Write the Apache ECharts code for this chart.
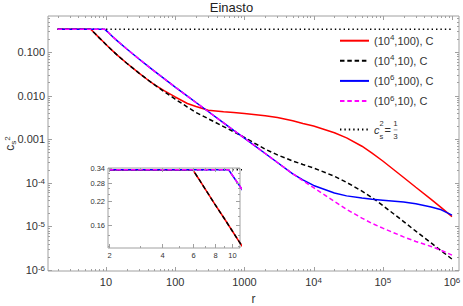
<!DOCTYPE html>
<html><head><meta charset="utf-8">
<script src="https://cdn.jsdelivr.net/npm/echarts@6/dist/echarts.min.js"></script>
<style>html,body{margin:0;padding:0;background:#fff}#c{width:463px;height:306px}</style>
</head><body><div id="c"></div>
<script>
// ---------- data ----------
const rRB = [2, 6, 6.5, 7, 7.5, 8, 9, 10, 11, 12.5, 15, 20, 30, 40, 50, 70, 100, 150, 200, 300, 500, 700, 1000, 2000, 3000, 5000, 7000, 1e4, 2e4, 3e4, 5e4, 7e4, 1e5, 2e5, 3e5, 5e5, 7e5, 1e6];
const red = [0.3333, 0.3333, 0.294, 0.261, 0.234, 0.211, 0.176, 0.149, 0.128, 0.106, 0.0813, 0.0551, 0.0328, 0.0231, 0.0178, 0.0128, 0.0093, 0.0066, 0.0056, 0.0046, 0.00425, 0.00412, 0.0039, 0.00343, 0.00313, 0.00266, 0.00229, 0.0020, 0.00141, 0.00107, 6.9e-4, 4.8e-4, 3.16e-4, 1.32e-4, 7.9e-5, 4.17e-5, 2.69e-5, 1.67e-5];
const black = [0.3333, 0.3333, 0.294, 0.261, 0.234, 0.211, 0.176, 0.149, 0.128, 0.106, 0.0813, 0.0551, 0.0328, 0.0231, 0.0178, 0.0122, 0.0083, 0.00547, 0.0041, 0.00295, 0.00195, 0.00148, 0.0011, 5.9e-4, 4.37e-4, 3.16e-4, 2.63e-4, 2.19e-4, 1.41e-4, 1.02e-4, 6.46e-5, 4.57e-5, 3.02e-5, 1.29e-5, 7.76e-6, 4.17e-6, 2.75e-6, 1.78e-6];
const rBM = [2, 9.6, 10, 11, 12.5, 15, 20, 30, 40, 50, 70, 100, 150, 200, 300, 500, 700, 1000, 2000, 3000, 5000, 7000, 1e4, 2e4, 3e4, 5e4, 7e4, 1e5, 2e5, 3e5, 5e5, 7e5, 1e6];
const blue = [0.3333, 0.3333, 0.313, 0.272, 0.2245, 0.1733, 0.1172, 0.0692, 0.048, 0.0363, 0.0241, 0.0157, 0.00973, 0.00695, 0.00432, 0.00238, 0.0016, 0.00106, 4.7e-4, 2.92e-4, 1.61e-4, 1.17e-4, 8.7e-5, 5.82e-5, 5.01e-5, 4.47e-5, 4.17e-5, 3.98e-5, 3.63e-5, 3.31e-5, 2.79e-5, 2.4e-5, 1.82e-5];
const magenta = [0.3333, 0.3333, 0.313, 0.272, 0.2245, 0.1733, 0.1172, 0.0692, 0.048, 0.0363, 0.0241, 0.0157, 0.00973, 0.00695, 0.00432, 0.00238, 0.0016, 0.00106, 4.7e-4, 2.92e-4, 1.61e-4, 1.12e-4, 7.76e-5, 3.72e-5, 2.45e-5, 1.55e-5, 1.17e-5, 9.1e-6, 5.75e-6, 4.52e-6, 3.47e-6, 2.82e-6, 2.19e-6];
const rFlat = [2, 1e6];
const flat = [1/3, 1/3];

const seriesNames = ['(10^4,100), C', '(10^4,10), C', '(10^6,100), C', '(10^6,10), C'];
const legendRich = ['{t|(10}{sp|4}{t|,100), C}', '{t|(10}{sp|4}{t|,10), C}', '{t|(10}{sp|6}{t|,100), C}', '{t|(10}{sp|6}{t|,10), C}'];
const flatName = 'cs2 = 1/3';
const flatLegend = '{pc| }{s2|2}{pe| }{fn|1}\n{ci|c}{gp| }{eq|=}{bar|─}\n{pc| }{s2|s}{pe| }{fn|3}';

const xTickVals = [10, 100, 1000, 1e4, 1e5, 1e6];
const xTickText = ['10', '100', '1000', '{b|10}{s|4}', '{b|10}{s|5}', '{b|10}{s|6}'];
const yTickVals = [0.1, 0.01, 0.001, 1e-4, 1e-5, 1e-6];
const yTickText = ['0.100', '0.010', '0.001', '{b|10}{s|-4}', '{b|10}{s|-5}', '{b|10}{s|-6}'];

const insetXTicks = [2, 4, 6, 8, 10];
const insetXLabels = ['2', '4', '6', '8', '10'];
const insetXMinor = [3, 5, 7, 9, 11];
const insetYTicks = [0.16, 0.22, 0.28, 0.34];
const insetYLabels = ['0.16', '0.22', '0.28', '0.34'];
const insetYMinor = [0.12, 0.14, 0.18, 0.20, 0.24, 0.26, 0.30, 0.32];

// ---------- style ----------
const FONT = '"Liberation Sans", Arial, sans-serif';
const FRAME = '#a0a0a0';
const TXT = '#333';
const LW = 1.5;
const X_MIN = 1.452, X_MAX = 1.263e6, Y_MIN = 9.48e-7, Y_MAX = 0.6694;
const IX_MIN = 1.974, IX_MAX = 11.13, IY_MIN = 0.1176, IY_MAX = 0.3414;

const zip = (a, b) => a.map((v, i) => [v, b[i]]);
function fmt(vals, texts) {
  return v => {
    for (let i = 0; i < vals.length; i++)
      if (Math.abs(Math.log10(v) - Math.log10(vals[i])) < 1e-6) return texts[i];
    return '';
  };
}
const supRich = {
  b: {fontSize: 11, fontFamily: FONT, color: TXT},
  s: {fontSize: 8, fontFamily: FONT, color: TXT, verticalAlign: 'top', lineHeight: 8}
};

const mainXTicks = [], mainYTicks = [];
for (let n = 0; n <= 6; n++) for (let k = 1; k <= 9; k++) {
  const v = k * Math.pow(10, n);
  if (v >= X_MIN && v <= X_MAX) mainXTicks.push([v, 0.01, k === 1 ? 1 : 0]);
}
for (let n = -6; n <= -1; n++) for (let k = 1; k <= 9; k++) {
  const v = k * Math.pow(10, n);
  if (v >= Y_MIN && v <= Y_MAX) mainYTicks.push([10, v, k === 1 ? 1 : 0]);
}
const crisp = p => Math.round(p) + 0.5;
function xTickRender(labels) {
  return function (params, api) {
    const cs = params.coordSys;
    const px = crisp(api.coord([api.value(0), api.value(1)])[0]);
    const major = api.value(2) === 1;
    const L = major ? 4 : 2;
    const b = cs.y + cs.height, t = cs.y;
    const ch = [
      {type: 'line', shape: {x1: px, y1: b, x2: px, y2: b - L}, style: {stroke: FRAME, lineWidth: 1}},
      {type: 'line', shape: {x1: px, y1: t, x2: px, y2: t + L}, style: {stroke: FRAME, lineWidth: 1}}
    ];
    if (labels && major) {
      ch.push({type: 'text', style: {text: labels[params.dataIndex], x: px, y: b + 3, align: 'center', verticalAlign: 'top', fontSize: 7.5, fontFamily: FONT, fill: TXT}});
    }
    return {type: 'group', children: ch};
  };
}
function yTickRender(labels) {
  return function (params, api) {
    const cs = params.coordSys;
    const py = crisp(api.coord([api.value(0), api.value(1)])[1]);
    const major = api.value(2) === 1;
    const L = major ? 4 : 2;
    const l = cs.x, r = cs.x + cs.width;
    const ch = [
      {type: 'line', shape: {x1: l, y1: py, x2: l + L, y2: py}, style: {stroke: FRAME, lineWidth: 1}},
      {type: 'line', shape: {x1: r, y1: py, x2: r - L, y2: py}, style: {stroke: FRAME, lineWidth: 1}}
    ];
    if (labels && major) {
      ch.push({type: 'text', style: {text: labels[params.dataIndex], x: l - 3, y: py, align: 'right', verticalAlign: 'middle', fontSize: 7.5, fontFamily: FONT, fill: TXT}});
    }
    return {type: 'group', children: ch};
  };
}
const insetXData = insetXTicks.map(v => [v, 0.2, 1]).concat(insetXMinor.map(v => [v, 0.2, 0]));
const insetYData = insetYTicks.map(v => [3, v, 1]).concat(insetYMinor.map(v => [3, v, 0]));

function lineSeries(name, data, color, type, xi, yi, z) {
  return {
    type: 'line', name, data, xAxisIndex: xi, yAxisIndex: yi, z,
    showSymbol: false, symbol: 'none', clip: true, silent: true,
    lineStyle: {color, width: LW, type, cap: 'butt'},
    itemStyle: {color}
  };
}
const DASH = [4.5, 2.8];
const DOT = [1.4, 3];

const hiddenAxis = {
  axisLine: {show: false}, axisTick: {show: false}, splitLine: {show: false}, axisLabel: {show: false}
};

const option = {
  animation: false,
  backgroundColor: '#fff',
  title: {
    text: 'Einasto', left: 'center', top: 0, padding: [1, 0, 0, 0],
    textStyle: {fontSize: 13, fontWeight: 'normal', fontFamily: FONT, color: '#222'}
  },
  grid: [
    {left: 48, top: 16, right: 4, bottom: 35, outerBoundsMode: 'none', containLabel: false, show: true, borderColor: FRAME, borderWidth: 1, backgroundColor: 'transparent', z: 0},
    {left: 108, top: 168, width: 132, height: 80, outerBoundsMode: 'none', containLabel: false, show: true, borderColor: FRAME, borderWidth: 1, backgroundColor: '#fff', z: 5}
  ],
  xAxis: [
    {type: 'log', gridIndex: 0, min: X_MIN, max: X_MAX, logBase: 10,
     name: 'r', nameLocation: 'middle', nameGap: 22, nameMoveOverlap: false,
     nameTextStyle: {fontSize: 12, fontFamily: FONT, color: TXT},
     axisLine: {show: false}, axisTick: {show: false}, splitLine: {show: false}, minorTick: {show: false},
     axisLabel: {show: true, margin: 5, fontSize: 11, fontFamily: FONT, color: TXT, showMinLabel: false, showMaxLabel: false,
                 formatter: fmt(xTickVals, xTickText), rich: supRich}},
    Object.assign({type: 'log', gridIndex: 1, min: IX_MIN, max: IX_MAX}, hiddenAxis)
  ],
  yAxis: [
    {type: 'log', gridIndex: 0, min: Y_MIN, max: Y_MAX, logBase: 10,
     name: '{c|c}{sb|s}{sp|2}', nameLocation: 'middle', nameGap: 31, nameRotate: 90, nameMoveOverlap: false,
     nameTextStyle: {fontSize: 12, fontFamily: FONT, color: TXT, rich: {
       c: {fontSize: 12, fontFamily: FONT, color: TXT, lineHeight: 14},
       sb: {fontSize: 8, fontFamily: FONT, color: TXT, verticalAlign: 'bottom', lineHeight: 7},
       sp: {fontSize: 8, fontFamily: FONT, color: TXT, verticalAlign: 'top', lineHeight: 7}}},
     axisLine: {show: false}, axisTick: {show: false}, splitLine: {show: false}, minorTick: {show: false},
     axisLabel: {show: true, margin: 3, fontSize: 11, fontFamily: FONT, color: TXT, showMinLabel: true, showMaxLabel: false,
                 formatter: fmt(yTickVals, yTickText), rich: supRich}},
    Object.assign({type: 'log', gridIndex: 1, min: IY_MIN, max: IY_MAX}, hiddenAxis)
  ],
  legend: [
    {orient: 'vertical', left: 339, top: 33.7, padding: 0, itemWidth: 29, itemHeight: 14, itemGap: 7.5,
     data: seriesNames, selectedMode: false, itemStyle: {opacity: 0},
     formatter: name => legendRich[seriesNames.indexOf(name)],
     textStyle: {fontSize: 11, fontFamily: FONT, color: TXT, rich: {
       t: {fontSize: 11, fontFamily: FONT, color: TXT, lineHeight: 14},
       sp: {fontSize: 8, fontFamily: FONT, color: TXT, verticalAlign: 'top', lineHeight: 8}}}},
    {orient: 'vertical', left: 339, top: 119, padding: 0, itemWidth: 29, itemHeight: 14,
     data: [flatName], selectedMode: false, itemStyle: {opacity: 0},
     formatter: () => flatLegend,
     textStyle: {fontSize: 11, fontFamily: FONT, color: TXT, rich: {
       pc: {width: 5.5, lineHeight: 6, fontSize: 8},
       pe: {width: 8, lineHeight: 6, fontSize: 8},
       s2: {fontSize: 7.5, fontFamily: FONT, color: TXT, lineHeight: 6, width: 5, align: 'left'},
       fn: {fontSize: 8, fontFamily: FONT, color: TXT, lineHeight: 6, width: 6, align: 'center'},
       ci: {fontSize: 11, fontFamily: FONT, fontStyle: 'italic', color: TXT, lineHeight: 7, width: 5.5},
       gp: {width: 5, lineHeight: 7, fontSize: 8},
       eq: {fontSize: 11, fontFamily: FONT, color: TXT, lineHeight: 7, width: 8, align: 'left'},
       bar: {fontSize: 6, fontFamily: '"DejaVu Sans"', color: TXT, lineHeight: 7, width: 6, align: 'center'}}}}
  ],
  series: [
    lineSeries(flatName, zip(rFlat, flat), '#000', DOT, 0, 0, 1),
    lineSeries(seriesNames[0], zip(rRB, red), '#ff0000', 'solid', 0, 0, 2),
    lineSeries(seriesNames[1], zip(rRB, black), '#000', DASH, 0, 0, 3),
    lineSeries(seriesNames[2], zip(rBM, blue), '#0000ff', 'solid', 0, 0, 4),
    lineSeries(seriesNames[3], zip(rBM, magenta), '#ff00ff', DASH, 0, 0, 5),
    {type: 'custom', name: 'xticks', xAxisIndex: 0, yAxisIndex: 0, data: mainXTicks, renderItem: xTickRender(null), silent: true, z: 6},
    {type: 'custom', name: 'yticks', xAxisIndex: 0, yAxisIndex: 0, data: mainYTicks, renderItem: yTickRender(null), silent: true, z: 6},
    lineSeries('inset-flat', zip(rFlat, flat), '#000', DOT, 1, 1, 11),
    lineSeries('inset-red', zip(rRB, red), '#ff0000', 'solid', 1, 1, 12),
    lineSeries('inset-black', zip(rRB, black), '#000', DASH, 1, 1, 13),
    lineSeries('inset-blue', zip(rBM, blue), '#0000ff', 'solid', 1, 1, 14),
    lineSeries('inset-magenta', zip(rBM, magenta), '#ff00ff', DASH, 1, 1, 15),
    {type: 'custom', name: 'ixticks', xAxisIndex: 1, yAxisIndex: 1, data: insetXData, renderItem: xTickRender(insetXLabels), silent: true, z: 16},
    {type: 'custom', name: 'iyticks', xAxisIndex: 1, yAxisIndex: 1, data: insetYData, renderItem: yTickRender(insetYLabels), silent: true, z: 16}
  ]
};
const chart = echarts.init(document.getElementById('c'), null, {renderer: 'svg'});
chart.setOption(option);
</script>
</body></html>
